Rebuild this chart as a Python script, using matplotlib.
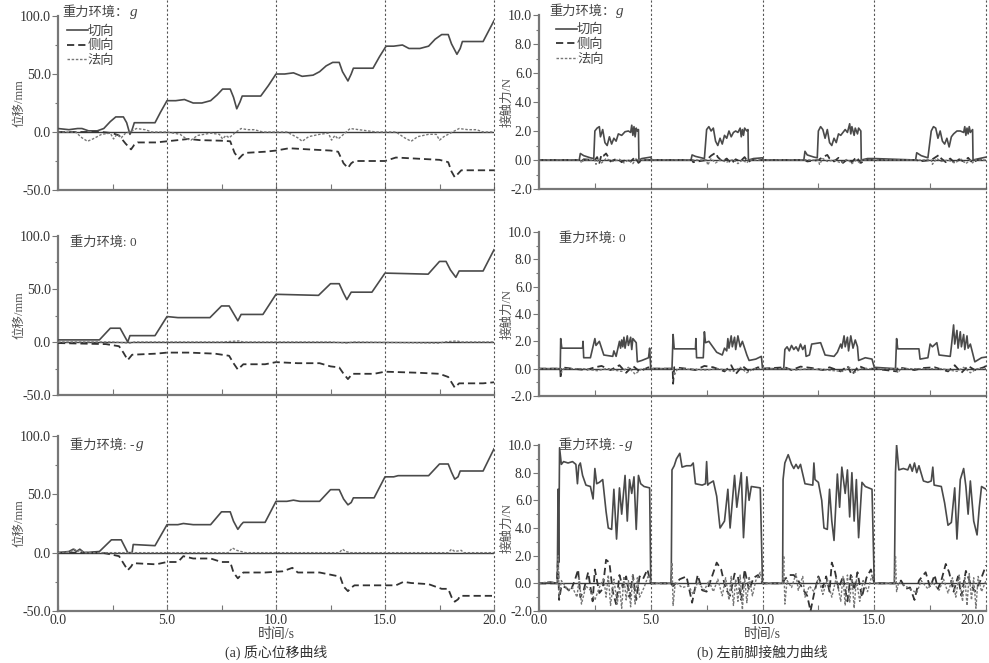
import matplotlib
matplotlib.use("Agg")
import matplotlib.pyplot as plt
import matplotlib.transforms as mtransforms
from matplotlib.ticker import MultipleLocator, FormatStrFormatter

plt.rcParams['font.family'] = ['Liberation Serif', 'Noto Sans CJK SC']
plt.rcParams['axes.unicode_minus'] = False

# ---------------- data: centre-of-mass displacement (mm) vs time (s) ----------------
DISP_G_TAN = [(0,3),(0.5,2),(0.9,3),(1.1,3),(1.4,1),(1.8,1),(2.1,3),(2.4,9),(2.65,13),(3.0,13),(3.15,8),(3.3,-2),(3.4,2),(3.5,8),(4.45,8),(4.7,17),(5.0,27),(5.4,27),(5.8,28),(6.2,25),(6.6,25),(7.0,27),(7.3,32),(7.55,37),(7.9,37),(8.05,30),(8.2,20),(8.35,26),(8.45,31),(9.3,31),(9.65,40),(10.0,50),(10.4,50),(10.8,51),(11.2,48),(11.7,49),(12.0,52),(12.3,57),(12.6,60),(12.9,60),(13.05,52),(13.3,44),(13.45,50),(13.55,55),(14.45,55),(14.75,65),(15.05,74),(15.4,74),(15.8,75),(16.1,72),(16.6,72),(17.0,74),(17.3,80),(17.6,84),(17.9,84),(18.05,76),(18.3,67),(18.45,72),(18.55,78),(19.5,78),(19.75,87),(20.0,96)]
DISP_G_SIDE = [(0,0),(1,0),(2,0),(2.5,-1),(2.8,-3),(3.1,-10),(3.35,-15),(3.5,-11),(3.65,-9),(4.5,-9),(5.0,-8),(5.5,-7),(6.0,-6),(6.5,-7),(7.5,-7.5),(7.9,-8),(8.1,-18),(8.3,-23),(8.45,-20),(8.6,-18),(9.5,-17),(10.0,-16),(10.6,-14),(11.5,-15),(12.5,-16),(12.85,-17),(13.1,-27),(13.3,-31),(13.45,-27),(13.6,-25),(15.0,-25),(15.5,-22),(16.5,-23),(17.5,-24),(17.9,-26),(18.05,-34),(18.2,-39),(18.35,-36),(18.5,-33),(19.5,-33),(20.0,-33)]
DISP_G_NORM = [(0,0),(0.8,0),(1.1,-5),(1.35,-8),(1.6,-6),(2.0,-2),(2.4,-1),(2.55,-6),(2.7,-2),(2.9,-5),(3.1,-1),(3.4,1),(3.6,3),(4.0,2),(4.3,0),(5.0,0),(5.6,-2),(5.9,-6),(6.1,-7),(6.4,-3),(7.0,-1),(7.4,-2),(7.55,-6),(7.7,-3),(7.85,-5),(8.1,-1),(8.4,3),(8.7,2),(9.0,2),(9.4,0),(10.5,0),(11.0,-5),(11.2,-8),(11.5,-4),(12.0,-2),(12.4,-1),(12.55,-7),(12.7,-3),(12.85,-6),(13.1,-2),(13.4,3),(13.8,2),(14.2,1),(14.6,0),(15.5,0),(15.9,-5),(16.2,-8),(16.5,-4),(17.0,-2),(17.35,-2),(17.5,-7),(17.7,-4),(17.9,-2),(18.4,3),(18.8,2),(19.2,2),(19.5,0),(20,0)]

DISP_0_TAN = [(0,2),(1.9,2),(2.4,13),(2.85,13),(3.2,0),(3.3,6),(4.45,6),(5.0,24),(5.5,23),(6.97,23),(7.5,34),(7.85,34),(8.05,27),(8.25,20),(8.4,26),(9.4,26),(10.0,45),(11.95,44),(12.5,55),(12.9,55),(13.1,46),(13.25,40),(13.45,47),(14.4,47),(15.0,65),(16.98,64),(17.5,76),(17.8,76),(18.0,68),(18.25,61),(18.4,67),(19.5,67),(20.0,87)]
DISP_0_SIDE = [(0,-1),(2.2,-2),(2.8,-4),(3.0,-10),(3.2,-17),(3.4,-12),(4.5,-11),(5.0,-10),(6.0,-10),(7.2,-11),(7.85,-13),(8.05,-20),(8.25,-26),(8.5,-21),(9.5,-21),(10.0,-19),(11.0,-20),(12.0,-20),(12.5,-23),(12.9,-24),(13.1,-30),(13.3,-35),(13.5,-30),(14.5,-30),(15.0,-28),(16.5,-29),(17.5,-30),(17.9,-33),(18.05,-38),(18.2,-43),(18.4,-39),(19.5,-39),(20.0,-38)]
DISP_0_NORM = [(0,0),(2.5,0),(3.3,-1),(3.5,0),(7.5,0),(8.3,1),(8.5,0),(12.5,0),(13.3,-1),(13.5,0),(17.5,-1),(17.7,0),(18.3,1),(18.5,0),(20,0)]

DISP_NG_TAN = [(0,0),(0.5,1),(0.7,3),(0.85,1),(1.0,3),(1.2,0),(1.9,1),(2.45,11),(2.9,11),(3.2,0),(3.4,0),(3.45,7),(4.45,6),(5.0,24),(5.5,24),(5.75,25),(6.2,24),(7.0,24),(7.5,35),(7.9,35),(8.05,27),(8.25,20),(8.4,24),(8.5,26),(9.5,26),(10.0,44),(10.5,44),(10.8,45),(11.1,44),(12.0,44),(12.5,54),(12.9,54),(13.1,46),(13.3,41),(13.45,43),(13.55,47),(14.5,47),(15.0,65),(15.4,65),(15.6,66),(17.0,66),(17.5,76),(17.9,76),(18.05,69),(18.2,63),(18.35,65),(18.45,70),(19.5,70),(20.0,89)]
DISP_NG_SIDE = [(0,0),(2.0,0),(2.3,-1),(2.8,-3),(3.0,-9),(3.2,-15),(3.35,-12),(3.45,-9),(4.5,-10),(5.0,-8),(5.5,-8),(5.75,-3),(6.2,-5),(7.0,-5),(7.5,-8),(7.9,-8),(8.05,-17),(8.25,-22),(8.4,-19),(8.5,-17),(9.5,-17),(10.3,-16),(10.75,-13),(11.0,-17),(12.0,-17),(12.8,-20),(12.95,-21),(13.1,-29),(13.3,-33),(13.45,-30),(13.6,-28),(15.0,-28),(15.5,-28),(15.85,-25),(16.2,-26),(17.0,-27),(17.6,-31),(17.9,-31),(18.05,-38),(18.2,-42),(18.35,-40),(18.45,-37),(20.0,-37)]
DISP_NG_NORM = [(0,0),(0.6,1),(0.75,3),(0.9,1),(1.0,2),(1.2,0),(7.8,0),(8.0,4),(8.2,2),(8.4,1),(8.6,0),(12.9,0),(13.05,3),(13.2,1),(13.4,0),(17.9,0),(18.05,3),(18.2,1),(18.5,2),(18.6,0),(20,0)]

# ---------------- data: left-front-foot contact force (N) vs time (s) ----------------
FORCE_G_TAN = [(0,0),(1.8,0),(1.85,0.45),(2.0,0.3),(2.3,0.15),(2.45,0.1),(2.5,2.0),(2.6,2.2),(2.7,2.3),(2.75,1.6),(2.85,2.1),(2.95,1.2),(3.05,1.0),(3.15,1.6),(3.25,1.1),(3.35,1.5),(3.45,1.3),(3.55,1.8),(3.7,1.7),(3.85,1.95),(4.0,2.0),(4.1,1.9),(4.15,2.4),(4.2,1.7),(4.25,2.3),(4.3,1.6),(4.35,2.2),(4.4,2.0),(4.45,2.1),(4.47,0.0),(4.6,0.1),(5.0,0.2),(5.05,0),
               (6.8,0),(6.85,0.35),(7.0,0.25),(7.4,0.1),(7.5,2.1),(7.6,2.3),(7.7,2.0),(7.8,2.2),(7.9,1.3),(8.0,1.0),(8.1,1.5),(8.2,1.1),(8.3,1.7),(8.4,1.5),(8.5,2.0),(8.6,1.6),(8.7,1.9),(8.8,2.0),(8.9,1.9),(9.0,2.2),(9.05,1.6),(9.1,2.1),(9.15,1.7),(9.2,2.2),(9.3,2.0),(9.35,2.1),(9.37,0),(9.6,0.1),(10.0,0.15),(10.05,0),
               (11.85,0),(11.9,0.6),(12.0,0.35),(12.3,0.2),(12.45,0.15),(12.5,2.0),(12.6,2.3),(12.7,2.1),(12.8,1.5),(12.9,2.1),(13.0,1.2),(13.1,1.0),(13.2,1.5),(13.3,1.2),(13.4,1.8),(13.5,1.7),(13.6,1.9),(13.7,2.1),(13.8,1.9),(13.9,2.5),(13.95,1.8),(14.0,2.3),(14.1,1.7),(14.15,2.2),(14.25,1.8),(14.3,2.2),(14.4,2.0),(14.42,0),(14.7,0.1),(15.0,0.1),
               (16.85,0),(16.9,0.5),(17.1,0.3),(17.4,0.15),(17.55,2.0),(17.65,2.3),(17.75,2.2),(17.85,1.5),(17.95,2.0),(18.05,1.3),(18.15,1.1),(18.25,1.5),(18.35,0.9),(18.45,1.6),(18.55,1.8),(18.7,2.0),(18.85,2.0),(19.0,1.9),(19.05,2.3),(19.1,1.7),(19.15,2.2),(19.2,1.8),(19.25,2.3),(19.3,1.9),(19.4,2.1),(19.42,0),(19.7,0.1),(20.0,0.2)]
FORCE_G_SIDE = [(0,0),(1.85,0),(1.9,-0.1),(2.0,0.05),(2.5,0),(2.6,0.2),(2.7,-0.2),(2.8,0.4),(2.9,0.3),(3.0,0.45),(3.1,0.2),(3.2,-0.1),(3.5,0.1),(3.7,-0.15),(3.9,0.05),(4.1,-0.1),(4.3,0.2),(4.45,-0.2),(4.6,0),
                (6.85,0),(6.9,-0.15),(7.5,0),(7.7,0.3),(7.9,0.5),(8.0,0.2),(8.2,-0.1),(8.4,0.1),(8.6,-0.25),(8.8,0.05),(9.0,-0.1),(9.2,0.2),(9.35,-0.15),(9.5,0),
                (11.9,0),(12.0,-0.1),(12.5,0),(12.7,0.2),(12.9,0.35),(13.0,0.1),(13.2,-0.1),(13.4,0.15),(13.6,-0.2),(13.8,0.05),(14.0,-0.15),(14.2,0.2),(14.4,-0.2),(14.6,0),
                (16.9,0),(17.0,-0.1),(17.55,0),(17.7,0.15),(17.9,0.35),(18.0,0.1),(18.2,-0.15),(18.4,0.1),(18.6,-0.2),(18.8,0.05),(19.0,-0.1),(19.2,0.15),(19.4,-0.2),(19.6,0),(20,0)]
FORCE_G_NORM = [(0,0),(1.85,0),(1.9,-0.2),(2.0,0),(2.5,0),(2.55,-0.3),(2.65,0.1),(2.8,-0.2),(3.0,0.1),(3.3,-0.1),(3.6,0.05),(3.8,-0.2),(4.0,0),(4.2,-0.25),(4.35,0.1),(4.45,0),
                (7.5,0),(7.55,-0.35),(7.7,0.1),(7.9,-0.2),(8.1,0),(8.4,-0.15),(8.7,0.05),(8.9,-0.25),(9.1,0),(9.3,-0.2),(9.4,0),
                (12.5,0),(12.55,-0.3),(12.7,0.1),(12.9,-0.1),(13.2,0),(13.5,-0.2),(13.8,0.05),(14.0,-0.25),(14.2,0),(14.35,-0.2),(14.45,0),
                (17.55,0),(17.6,-0.3),(17.8,0.1),(18.0,-0.1),(18.3,0),(18.6,-0.2),(18.9,0.05),(19.1,-0.25),(19.3,0),(19.4,-0.2),(19.5,0),(20,0)]

FORCE_0_TAN = [(0,0),(0.95,0),(0.97,2.2),(1.02,1.5),(1.95,1.5),(1.97,2.0),(2.0,0.8),(2.3,0.8),(2.5,2.2),(2.55,1.7),(2.7,2.0),(2.9,1.0),(3.3,0.9),(3.35,1.3),(3.45,0.9),(3.6,2.0),(3.65,1.5),(3.7,2.1),(3.75,1.6),(3.8,2.3),(3.85,1.5),(3.95,2.4),(4.0,1.7),(4.1,2.3),(4.15,1.4),(4.2,2.2),(4.3,2.0),(4.35,1.9),(4.4,0.5),(4.6,0.6),(4.9,0.8),(4.95,1.5),(5.0,0),(5.95,0),
               (6.0,2.5),(6.05,1.45),(7.0,1.45),(7.02,2.2),(7.05,0.8),(7.35,0.8),(7.4,2.7),(7.45,1.9),(7.6,2.0),(7.95,1.2),(8.2,1.0),(8.3,1.5),(8.4,1.3),(8.45,2.2),(8.5,1.5),(8.6,2.4),(8.65,1.6),(8.75,2.3),(8.8,1.4),(8.9,2.4),(9.0,1.6),(9.1,2.0),(9.2,1.5),(9.3,1.0),(9.4,0.6),(9.7,0.7),(9.95,0.9),(10.0,0),(10.95,0),
               (11.0,1.4),(11.1,1.6),(11.2,1.3),(11.3,1.7),(11.4,1.4),(11.5,1.6),(11.6,1.3),(11.7,1.8),(11.8,1.4),(11.9,1.7),(11.95,0.9),(12.1,1.0),(12.2,1.8),(12.6,1.9),(12.8,1.0),(13.2,0.9),(13.35,1.2),(13.5,1.8),(13.55,1.5),(13.65,2.4),(13.7,1.6),(13.8,2.3),(13.85,1.3),(13.95,2.4),(14.05,1.5),(14.15,2.1),(14.25,1.6),(14.3,0.6),(14.6,0.8),(14.9,0.7),(15.0,0.1),(15.95,0),
               (16.0,2.2),(16.05,1.45),(17.0,1.45),(17.05,0.7),(17.4,0.8),(17.5,1.8),(17.6,1.6),(17.8,1.9),(17.9,1.0),(18.4,0.9),(18.45,1.6),(18.55,3.2),(18.6,1.8),(18.7,2.8),(18.75,1.5),(18.85,2.7),(18.9,1.6),(19.0,2.5),(19.05,1.4),(19.15,2.4),(19.2,1.5),(19.3,1.8),(19.5,0.5),(19.8,0.8),(20.0,0.85)]
FORCE_0_SIDE = [(0,0),(0.95,0),(0.97,-0.7),(1.0,0.1),(1.5,0),(2.1,-0.1),(2.5,0.1),(2.8,0.2),(3.2,-0.1),(3.6,0.25),(3.9,-0.3),(4.2,0.2),(4.5,-0.2),(4.9,0.1),(5.0,0),
                (5.98,0),(6.0,-1.1),(6.05,0.1),(6.6,0),(7.0,-0.1),(7.4,0.2),(7.8,0.1),(8.3,-0.2),(8.6,0.25),(8.8,-0.4),(9.1,0.2),(9.4,-0.2),(9.8,0.1),(10.0,0),
                (11.0,0.1),(11.3,-0.1),(11.7,0.15),(12.2,0.05),(12.7,-0.1),(13.0,0.1),(13.5,-0.2),(13.8,0.2),(14.0,-0.45),(14.3,0.2),(14.6,0),(15.0,0),
                (16.0,-0.2),(16.05,0.1),(16.8,-0.1),(17.2,0.05),(17.7,0.1),(18.3,-0.2),(18.6,0.25),(18.9,-0.3),(19.2,0.2),(19.5,-0.1),(19.9,0.1),(20,0.2)]
FORCE_0_NORM = [(0,0),(0.97,0),(1.0,-0.3),(1.1,0),(2.0,0),(2.6,-0.15),(3.0,0),(3.7,-0.2),(4.0,0.1),(4.3,-0.4),(4.6,0),(6.0,0),(6.05,-0.5),(6.2,0),(7.5,-0.1),(8.0,0),(8.7,-0.2),(9.0,0.1),(9.3,-0.3),(9.6,0),
                (11.0,0),(11.5,-0.1),(12.0,0),(13.6,-0.2),(13.9,0.1),(14.1,-0.3),(14.4,0),(16.0,0),(16.05,-0.3),(16.2,0),(18.0,0),(18.7,-0.2),(19.0,0.1),(19.3,-0.3),(19.6,0),(20,0)]

FORCE_NG_TAN = [(0,0),(0.3,0),(0.5,0.1),(0.82,0),(0.85,6.8),(0.88,1.5),(0.92,9.8),(1.0,8.6),(1.1,8.8),(1.3,8.7),(1.5,8.8),(1.65,8.6),(1.72,7.2),(1.78,8.5),(1.85,8.7),(1.95,7.8),(2.1,7.1),(2.3,7.0),(2.42,6.1),(2.5,8.3),(2.58,7.2),(2.7,7.3),(2.85,7.5),(2.92,6.4),(3.0,5.2),(3.1,4.0),(3.25,3.9),(3.35,6.8),(3.47,3.2),(3.6,6.9),(3.7,5.0),(3.85,7.8),(3.95,4.5),(4.05,7.5),(4.15,6.5),(4.25,7.7),(4.35,3.9),(4.45,7.8),(4.55,7.2),(4.7,7.0),(4.95,6.9),(5.0,0),(5.9,0),
                (5.92,1.0),(5.95,8.2),(6.05,8.5),(6.15,9.0),(6.3,9.4),(6.4,8.4),(6.6,8.5),(6.8,8.5),(6.9,8.7),(7.0,7.2),(7.3,7.1),(7.45,7.2),(7.5,8.8),(7.55,7.1),(7.6,7.2),(7.8,7.4),(7.95,6.3),(8.1,4.0),(8.3,4.5),(8.45,6.8),(8.55,4.0),(8.75,7.8),(8.85,5.5),(9.05,8.0),(9.15,3.3),(9.3,7.7),(9.4,6.0),(9.5,7.0),(9.9,6.9),(10.0,0),(10.9,0),
                (10.92,7.5),(11.0,8.7),(11.15,9.3),(11.3,8.6),(11.4,8.3),(11.5,8.6),(11.6,8.3),(11.7,8.6),(11.9,7.2),(12.25,7.1),(12.3,8.7),(12.35,7.5),(12.5,7.3),(12.65,6.0),(12.75,4.0),(12.9,3.9),(13.0,6.8),(13.1,4.5),(13.2,3.1),(13.35,7.9),(13.45,5.5),(13.55,8.4),(13.7,6.5),(13.8,8.2),(13.9,4.8),(14.0,8.0),(14.1,4.5),(14.2,7.5),(14.3,3.3),(14.45,7.3),(14.6,7.0),(14.9,6.8),(15.0,0),(15.9,0),
                (15.95,8.0),(16.0,10.0),(16.1,8.2),(16.3,8.3),(16.5,8.2),(16.6,8.6),(16.7,8.1),(16.8,8.7),(16.9,8.0),(17.0,8.5),(17.2,7.4),(17.4,7.3),(17.55,7.4),(17.62,8.4),(17.68,7.1),(18.0,7.0),(18.15,5.8),(18.3,4.2),(18.45,4.4),(18.6,6.9),(18.7,3.2),(18.85,7.5),(19.0,8.3),(19.1,7.0),(19.2,5.0),(19.3,7.4),(19.45,4.5),(19.6,3.5),(19.7,5.5),(19.8,7.0),(20.0,6.8)]
FORCE_NG_SIDE = [(0,0),(0.8,0),(0.85,1.8),(0.9,-1.2),(1.0,-0.2),(1.2,-0.3),(1.4,-0.6),(1.6,0.2),(1.75,1.0),(1.85,-1.0),(2.0,-0.5),(2.2,0.8),(2.4,-1.3),(2.5,1.0),(2.7,-0.7),(2.85,-0.4),(3.0,1.7),(3.15,1.5),(3.3,-0.6),(3.45,-1.5),(3.6,0.6),(3.75,-0.3),(3.9,0.5),(4.05,-1.0),(4.2,0.6),(4.35,-1.2),(4.5,0.5),(4.65,0.3),(4.85,1.0),(5.0,0),(5.9,0),
                 (6.0,-0.2),(6.3,0.3),(6.6,0.5),(6.85,-1.4),(7.1,0.6),(7.3,-0.5),(7.5,-0.6),(7.7,0.3),(7.95,1.5),(8.15,1.0),(8.35,-0.4),(8.55,-0.9),(8.75,0.7),(8.9,0.5),(9.05,-1.2),(9.2,1.0),(9.4,-0.5),(9.6,0.4),(9.8,0.6),(10.0,0),(10.9,0),
                 (11.0,0.3),(11.2,0.6),(11.4,0.6),(11.6,0.2),(11.8,-0.4),(12.0,-0.9),(12.15,-2.0),(12.3,-0.8),(12.5,0.5),(12.7,-0.3),(12.85,0.5),(13.0,-0.6),(13.1,1.5),(13.25,0.8),(13.4,-0.4),(13.6,0.5),(13.8,-1.3),(13.95,0.6),(14.1,-0.5),(14.25,0.8),(14.45,-1.0),(14.65,0.4),(14.85,1.0),(15.0,0),(15.95,0),
                 (16.2,0.2),(16.4,-0.4),(16.6,-0.3),(16.8,-1.2),(17.0,0.2),(17.3,0.8),(17.5,-0.3),(17.7,0.6),(17.85,-0.4),(18.0,0.2),(18.2,1.4),(18.35,0.8),(18.55,-0.6),(18.75,0.5),(18.9,-0.9),(19.1,0.9),(19.3,0.0),(19.5,-0.6),(19.75,0.2),(20.0,1.3)]
FORCE_NG_NORM = [(0,0),(0.4,0.1),(0.84,0),(0.86,2.0),(0.9,-1.0),(1.0,0.2),(1.3,-0.5),(1.5,-0.3),(1.7,-1.0),(1.8,0.5),(1.9,-1.5),(2.1,-0.2),(2.3,-0.5),(2.5,-1.2),(2.7,-0.3),(2.9,0.4),(3.0,-1.0),(3.1,0.6),(3.2,-1.6),(3.35,0.3),(3.5,-1.5),(3.6,-0.2),(3.7,-1.8),(3.8,0.5),(3.9,-1.2),(4.0,0.2),(4.1,-1.7),(4.2,0.6),(4.3,-1.5),(4.4,0.4),(4.5,-1.0),(4.7,-0.3),(4.9,0.6),(5.0,0),(5.9,0),
                 (5.95,1.5),(6.0,-1.6),(6.1,0.1),(6.4,-0.3),(6.7,-0.2),(6.9,-0.8),(7.1,0.1),(7.4,-0.5),(7.6,0.2),(7.8,-0.6),(8.0,0.3),(8.2,-0.9),(8.35,0.4),(8.5,-1.2),(8.6,0.5),(8.7,-1.6),(8.8,0.3),(8.9,-1.3),(9.0,0.6),(9.1,-1.9),(9.2,0.4),(9.3,-1.4),(9.4,0.5),(9.55,-0.9),(9.7,0.2),(9.9,0.8),(10.0,0),(10.9,0),
                 (10.95,2.0),(11.0,-1.5),(11.1,0.2),(11.3,-0.3),(11.5,0.7),(11.6,-0.5),(11.8,0.5),(11.9,-1.0),(12.1,-0.2),(12.3,-0.6),(12.5,0.4),(12.7,-0.8),(12.9,0.3),(13.1,-1.0),(13.3,0.4),(13.5,-1.3),(13.6,0.5),(13.7,-1.6),(13.8,0.6),(13.9,-1.4),(14.0,0.5),(14.1,-1.8),(14.2,0.3),(14.35,-1.3),(14.5,0.2),(14.7,-0.6),(14.9,0.6),(15.0,0),(15.9,0),
                 (15.95,2.0),(16.0,-0.6),(16.1,0.1),(16.4,-0.2),(16.6,-0.4),(16.9,-0.7),(17.1,0.2),(17.4,-0.4),(17.6,0.1),(17.9,-0.5),(18.1,0.3),(18.3,-0.7),(18.5,0.4),(18.65,-1.0),(18.8,0.6),(18.95,-1.3),(19.05,0.5),(19.15,-1.6),(19.25,0.7),(19.35,-1.2),(19.45,0.4),(19.55,-1.8),(19.65,0.5),(19.8,-0.6),(20.0,0.2)]

SERIES_LABELS = ['切向', '侧向', '法向']
# gravity-environment label: (upright prefix, italic suffix)
ENV_LABELS = [('重力环境：', 'g'), ('重力环境: 0', ''), ('重力环境: -', 'g')]
X_TICKS = [0, 5, 10, 15, 20]

disp_data = [(DISP_G_TAN, DISP_G_SIDE, DISP_G_NORM),
             (DISP_0_TAN, DISP_0_SIDE, DISP_0_NORM),
             (DISP_NG_TAN, DISP_NG_SIDE, DISP_NG_NORM)]
force_data = [(FORCE_G_TAN, FORCE_G_SIDE, FORCE_G_NORM),
              (FORCE_0_TAN, FORCE_0_SIDE, FORCE_0_NORM),
              (FORCE_NG_TAN, FORCE_NG_SIDE, FORCE_NG_NORM)]

# ---------------- layout ----------------
W, H = 989, 663
fig = plt.figure(figsize=(W / 100, H / 100), dpi=100)

def rect(x0, x1, ytop, ybot):
    return [x0 / W, 1 - ybot / H, (x1 - x0) / W, (ybot - ytop) / H]

left_rects = [rect(58, 494, 16, 190), rect(58, 494, 236, 395), rect(58, 494, 436, 611)]
right_rects = [rect(539, 986, 15, 189), rect(539, 986, 232, 396), rect(539, 986, 445, 611)]

TXT = '#444444'
SPINE = '#777777'
styles = [dict(color='#4a4a4a', lw=1.2, ls='-'),
          dict(color='#333333', lw=1.3, ls=(0, (4, 2.2))),
          dict(color='#777777', lw=1.0, ls=(0, (1.8, 1.2)))]

def setup(ax, ylim, major, minor, fmt, show_x):
    ax.set_xlim(0, 20)
    ax.set_ylim(*ylim)
    ax.set_yticks(major)
    ax.yaxis.set_minor_locator(MultipleLocator(minor))
    ax.yaxis.set_major_formatter(FormatStrFormatter(fmt))
    ax.set_xticks(X_TICKS)
    ax.xaxis.set_minor_locator(MultipleLocator(2.5))
    ax.xaxis.set_major_formatter(FormatStrFormatter('%.1f'))
    for s in ['top', 'right']:
        ax.spines[s].set_visible(False)
    for s in ['left', 'bottom']:
        ax.spines[s].set_color(SPINE)
        ax.spines[s].set_linewidth(1.6)
    ax.tick_params(axis='y', which='major', direction='out', length=4, width=0.8,
                   color=SPINE, labelsize=10, labelcolor='#333333', pad=1)
    ax.tick_params(axis='y', which='minor', direction='out', length=2.5, width=0.8, color=SPINE)
    ax.tick_params(axis='x', which='both', direction='in', length=4, width=0.8, color=SPINE,
                   labelsize=10, labelcolor='#333333', labelbottom=show_x, pad=2)
    ax.axhline(0, color='#3a3a3a', lw=1.0, zorder=1)
    ax.patch.set_alpha(0)

def draw(ax, triple):
    for pairs, st, lab in zip(triple, styles, SERIES_LABELS):
        xs = [p[0] for p in pairs]
        ys = [p[1] for p in pairs]
        ax.plot(xs, ys, label=lab, zorder=3, **st)

def env_label(ax, x, y, parts):
    prefix, suffix = parts
    t = ax.text(x, y, prefix, transform=ax.transAxes, fontsize=9.5, color=TXT,
                ha='left', va='center')
    if suffix:
        ax.annotate(suffix, xy=(1, 0), xycoords=t, xytext=(1, 0), textcoords='offset points',
                    fontsize=11, color=TXT, ha='left', va='bottom', fontstyle='italic',
                    family='Liberation Serif')

# per column: rects, data, ylim, ticks, minor, ylabel, label x, env-label positions, legend anchor
cols = [(left_rects, disp_data, (-50, 100), [-50, 0, 50, 100], 25, '位移/mm', -0.074,
         [(0.01, 1.02), (0.0275, 0.962), (0.0275, 0.949)], (0.02, 0.948)),
        (right_rects, force_data, (-2, 10), [-2, 0, 2, 4, 6, 8, 10], 1, '接触力/N', -0.058,
         [(0.022, 1.02), (0.045, 0.963), (0.045, 1.0)], (0.038, 0.95))]

bottom_axes = []
for rects, data, ylim, major, minor, ylab, labx, envpos, legpos in cols:
    axes = []
    for i, (r, tri) in enumerate(zip(rects, data)):
        ax = fig.add_axes(r)
        setup(ax, ylim, major, minor, '%.1f', show_x=(i == 2))
        draw(ax, tri)
        ax.set_ylabel(ylab, fontsize=9, color='#555555')
        ax.yaxis.set_label_coords(labx, 0.5)
        env_label(ax, envpos[i][0], envpos[i][1], ENV_LABELS[i])
        if i == 0:
            leg = ax.legend(loc='upper left', bbox_to_anchor=legpos, frameon=False,
                            fontsize=9.5, handlelength=1.6, handletextpad=0.0,
                            labelspacing=0.18, borderpad=0.0, borderaxespad=0.0)
            for t in leg.get_texts():
                t.set_color(TXT)
        axes.append(ax)
    # vertical dotted guides spanning the whole column
    bot = axes[2]
    hpx = bot.get_position().height * H
    for xv in X_TICKS[1:]:
        bot.axvline(xv, ymin=0, ymax=611 / hpx, clip_on=False, color='#555555',
                    lw=0.8, ls=(0, (2, 2)), zorder=0)
    bot.set_xlabel('时间/s', fontsize=10, color='#444444', labelpad=1)
    bottom_axes.append(bot)

# keep the last tick label of the right column inside the picture
fig.canvas.draw()
last = bottom_axes[1].get_xticklabels()[-1]
last.set_transform(last.get_transform() + mtransforms.ScaledTranslation(-10 / 72, 0, fig.dpi_scale_trans))

fig.text(276 / W, 1 - 652 / H, '(a) 质心位移曲线', ha='center', va='center', fontsize=10, color='#333333')
fig.text(762 / W, 1 - 652 / H, '(b) 左前脚接触力曲线', ha='center', va='center', fontsize=10, color='#333333')

fig.savefig('out.png', dpi=100)
